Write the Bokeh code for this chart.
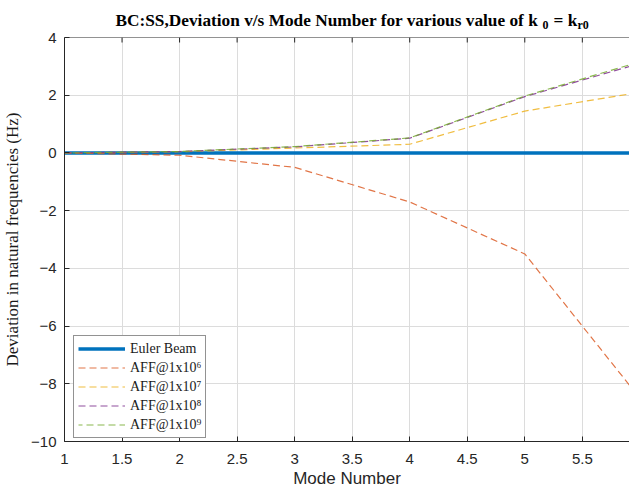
from bokeh.plotting import figure
from bokeh.layouts import column
from bokeh.models import Range1d, FixedTicker, Legend, LegendItem, Span
from bokeh.core.properties import value
from bokeh.embed import file_html
from bokeh.resources import INLINE

# ---- data ----
modes = [1, 2, 3, 4, 5, 6]
euler_beam = [0, 0, 0, 0, 0, 0]
aff_1e6 = [0, -0.08, -0.5, -1.7, -3.5, -8.5]
aff_1e7 = [0, 0.04, 0.17, 0.30, 1.45, 2.10]
aff_1e8 = [0, 0.05, 0.21, 0.51, 1.95, 3.10]
aff_1e9 = [0, 0.05, 0.22, 0.52, 1.97, 3.16]
x_ticks = [1, 1.5, 2, 2.5, 3, 3.5, 4, 4.5, 5, 5.5]
y_ticks = [-10, -8, -6, -4, -2, 0, 2, 4]
series_labels = ["Euler Beam", "AFF@1x10⁶", "AFF@1x10⁷", "AFF@1x10⁸", "AFF@1x10⁹"]
title_parts = ["BC:SS,Deviation v/s Mode Number for various value of k", "0", "= k", "r0"]
x_label = "Mode Number"
y_label = "Deviation in natural frequencies (Hz)"

AX = "#262626"
LEFT, FW = 64, 565
TITLE_H = 29

# ---- title strip: frame aligned with the main frame, data units = canvas pixels ----
t = figure(frame_width=FW, frame_height=TITLE_H,
           min_border_left=LEFT, min_border_right=0, min_border_top=0, min_border_bottom=0,
           x_range=Range1d(LEFT, LEFT + FW), y_range=Range1d(TITLE_H, 0),
           x_axis_type=None, y_axis_type=None,
           output_backend="svg", toolbar_location=None,
           background_fill_color="white", border_fill_color="white")
t.title.visible = False
t.outline_line_color = None
t.grid.visible = False
title_px = [(115, 19.5, "17.3px"), (542, 24.5, "12px"), (553, 19.5, "17.3px"), (577, 24.5, "12px")]
for txt, (xp, yp, size) in zip(title_parts, title_px):
    t.text(x=[xp], y=[yp], text=[txt],
           text_font=value("Liberation Serif"), text_font_style="bold",
           text_font_size=value(size), text_color="black",
           text_align="left", text_baseline="alphabetic")

# ---- main plot ----
p = figure(frame_width=FW, frame_height=404,
           min_border_left=LEFT, min_border_right=0, min_border_top=37 - TITLE_H, min_border_bottom=53,
           x_range=Range1d(1, 5.91), y_range=Range1d(y_ticks[0], y_ticks[-1]),
           output_backend="svg", toolbar_location=None,
           background_fill_color="white", border_fill_color="white")
p.title.visible = False
p.outline_line_color = None

for ax in (p.xaxis[0], p.yaxis[0]):
    ax.axis_line_color = AX
    ax.major_tick_line_color = AX
    ax.major_tick_in = 5
    ax.major_tick_out = 0
    ax.minor_tick_line_color = None
    ax.major_label_text_color = AX
    ax.major_label_text_font = "Liberation Sans"
    ax.major_label_text_font_size = "15px"

p.xaxis[0].ticker = FixedTicker(ticks=x_ticks)
p.yaxis[0].ticker = FixedTicker(ticks=y_ticks)
p.xaxis[0].major_label_overrides = {1: "1", 2: "2", 3: "3", 4: "4", 5: "5"}
p.xaxis[0].major_label_standoff = 12
p.xaxis[0].axis_label = x_label
p.xaxis[0].axis_label_text_font = "Liberation Sans"
p.xaxis[0].axis_label_text_font_size = "17px"
p.xaxis[0].axis_label_text_font_style = "normal"
p.xaxis[0].axis_label_text_color = AX
p.xaxis[0].axis_label_standoff = 2

p.yaxis[0].major_label_standoff = 8
p.yaxis[0].axis_label = y_label
p.yaxis[0].axis_label_text_font = "Liberation Serif"
p.yaxis[0].axis_label_text_font_size = "17px"
p.yaxis[0].axis_label_text_font_style = "normal"
p.yaxis[0].axis_label_text_color = "#1a1a1a"
p.yaxis[0].axis_label_standoff = 6

GRID = "#dcdcdc"
p.xgrid.ticker = FixedTicker(ticks=x_ticks)
p.ygrid.ticker = FixedTicker(ticks=y_ticks)
p.grid.grid_line_color = GRID

# top border of the box with inward ticks (no right border: the box is cut at the window edge)
p.add_layout(Span(location=y_ticks[-1], dimension="width", line_color=AX, line_width=1))
tick_len = 5 * (y_ticks[-1] - y_ticks[0]) / 404
p.segment(x0=x_ticks, y0=[y_ticks[-1]] * len(x_ticks), x1=x_ticks,
          y1=[y_ticks[-1] - tick_len] * len(x_ticks), line_color=AX, line_width=1)

dash = "7 4"
r0 = p.line(modes, euler_beam, line_color="#0072BD", line_width=3.5)
r1 = p.line(modes, aff_1e6, line_color="#D95319", line_width=1.2, line_dash=dash, line_alpha=0.8)
r2 = p.line(modes, aff_1e7, line_color="#EDB120", line_width=1.2, line_dash=dash, line_alpha=0.85)
r3 = p.line(modes, aff_1e8, line_color="#7E2F8E", line_width=1.2, line_dash=dash, line_alpha=0.85)
r4 = p.line(modes, aff_1e9, line_color="#77AC30", line_width=1.2, line_dash=dash, line_alpha=0.85,
            line_dash_offset=3)

legend = Legend(items=[LegendItem(label=l, renderers=[r]) for l, r in
                       zip(series_labels, [r0, r1, r2, r3, r4])],
                location=(9, 3), margin=0, padding=4, spacing=2,
                label_height=17, glyph_height=17, glyph_width=47, label_standoff=5,
                label_text_font="Liberation Serif", label_text_font_size="14px",
                label_text_color="#1a1a1a",
                border_line_color=AX, border_line_width=1,
                background_fill_color="white", background_fill_alpha=1)
p.add_layout(legend, "center")

layout = column(t, p, spacing=0)
open("out.html", "w").write(file_html(layout, INLINE))
